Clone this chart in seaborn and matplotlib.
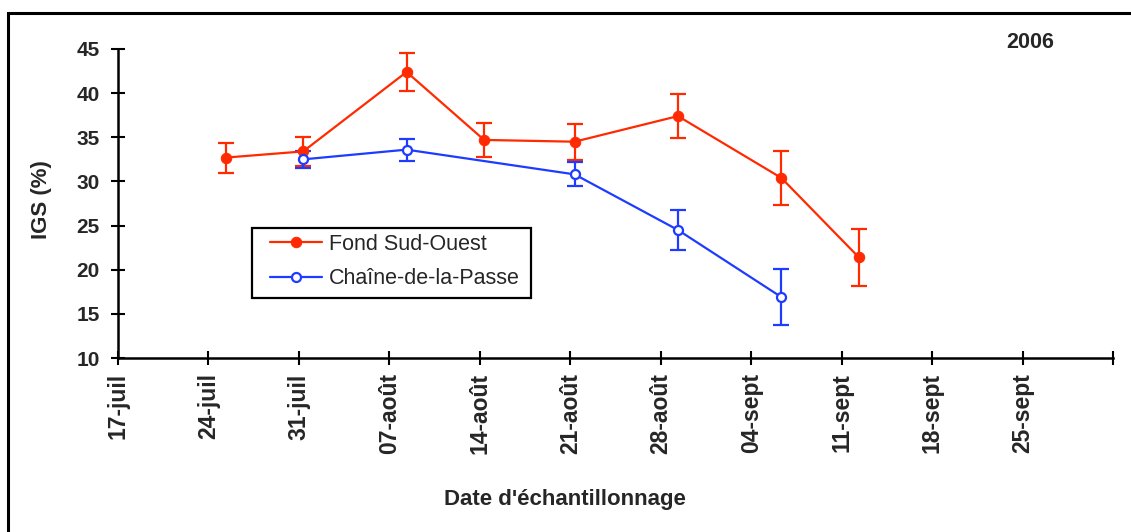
import matplotlib
matplotlib.use("Agg")
import matplotlib.pyplot as plt
from matplotlib.patches import Rectangle
import seaborn as sns
import pandas as pd
import numpy as np

# ---- data ----
red_dates = ["2006-07-25 08:00", "2006-07-31 08:00", "2006-08-08 08:00", "2006-08-14 08:00",
             "2006-08-21 08:00", "2006-08-29 08:00", "2006-09-06 08:00", "2006-09-12 08:00"]
red_values = [32.7, 33.4, 42.4, 34.7, 34.5, 37.4, 30.4, 21.4]
red_err = [1.7, 1.6, 2.2, 1.9, 2.05, 2.45, 3.05, 3.2]

blue_dates = ["2006-07-31 08:00", "2006-08-08 08:00", "2006-08-21 08:00",
              "2006-08-29 08:00", "2006-09-06 08:00"]
blue_values = [32.5, 33.6, 30.8, 24.5, 16.9]
blue_err = [1.0, 1.25, 1.35, 2.25, 3.2]

series_names = ["Fond Sud-Ouest", "Chaîne-de-la-Passe"]
tick_dates = ["2006-07-17", "2006-07-24", "2006-07-31", "2006-08-07", "2006-08-14", "2006-08-21",
              "2006-08-28", "2006-09-04", "2006-09-11", "2006-09-18", "2006-09-25", "2006-10-02"]
tick_labels = ["17-juil", "24-juil", "31-juil", "07-août", "14-août", "21-août",
               "28-août", "04-sept", "11-sept", "18-sept", "25-sept", ""]
y_ticks = [10, 15, 20, 25, 30, 35, 40, 45]

RED = "#FF2A00"
BLUE = "#1E3CFF"

sns.set_style("ticks")
plt.rcParams["font.family"] = ["Liberation Sans", "DejaVu Sans"]

W, H = 1131, 532
fig = plt.figure(figsize=(W/100, H/100), dpi=100)
ax = fig.add_axes([118/W, 1-358/H, (1113-118)/W, (358-49)/H])

rd = pd.to_datetime(red_dates)
bd = pd.to_datetime(blue_dates)

ax.errorbar(rd, red_values, yerr=red_err, fmt="none", ecolor=RED, elinewidth=1.6,
            capsize=5.5, capthick=1.6, zorder=2)
ax.errorbar(bd, blue_values, yerr=blue_err, fmt="none", ecolor=BLUE, elinewidth=1.6,
            capsize=5.5, capthick=1.6, zorder=2)

sns.lineplot(x=rd, y=red_values, ax=ax, color=RED, marker="o", markersize=7.5,
             markerfacecolor=RED, markeredgecolor=RED, linewidth=1.6,
             label=series_names[0], zorder=3)
sns.lineplot(x=bd, y=blue_values, ax=ax, color=BLUE, marker="o", markersize=6.5,
             markerfacecolor="white", markeredgecolor=BLUE, markeredgewidth=1.6,
             linewidth=1.6, label=series_names[1], zorder=3)

ax.set_xlim(pd.Timestamp(tick_dates[0]), pd.Timestamp(tick_dates[-1]))
ax.set_ylim(10, 45)
ax.set_xticks(pd.to_datetime(tick_dates))
ax.set_xticklabels(tick_labels, rotation=90, fontsize=16.5, fontweight="bold")
ax.set_yticks(y_ticks)
ax.set_yticklabels([str(v) for v in y_ticks], fontsize=15, fontweight="bold")
ax.tick_params(axis="both", direction="inout", length=10, width=1.5, color="black")
ax.tick_params(axis="x", pad=6)
ax.tick_params(axis="y", pad=8)

for s in ["top", "right"]:
    ax.spines[s].set_visible(False)
for s in ["left", "bottom"]:
    ax.spines[s].set_linewidth(1.8)
    ax.spines[s].set_color("black")
ax.set_xlabel("")
ax.set_ylabel("")
ax.grid(False)

leg = ax.legend(loc="upper left", bbox_to_anchor=(270/W, 1-234/H), bbox_transform=fig.transFigure,
                fontsize=15.5, frameon=False, handlelength=2.4,
                handletextpad=0.33, labelspacing=0.62, borderpad=0, borderaxespad=0)
fig.add_artist(Rectangle((252/W, 1-298/H), (531-252)/W, 70/H, transform=fig.transFigure,
                         fill=False, lw=1.6, ec="black", zorder=5))

fig.text(42/W, 1-200/H, "IGS (%)", rotation=90, ha="center", va="center",
         fontsize=16, fontweight="bold")
fig.text(565/W, 1-499/H, "Date d'échantillonnage", ha="center", va="center",
         fontsize=16, fontweight="bold")
fig.text(1030/W, 1-43/H, "2006", ha="center", va="center",
         fontsize=15.5, fontweight="bold")

fig.add_artist(Rectangle((8/W, -0.1), 1.2, (1-13/H)+0.1, transform=fig.transFigure,
                         fill=False, lw=2.2, ec="black"))

fig.savefig("out.png", dpi=100)
